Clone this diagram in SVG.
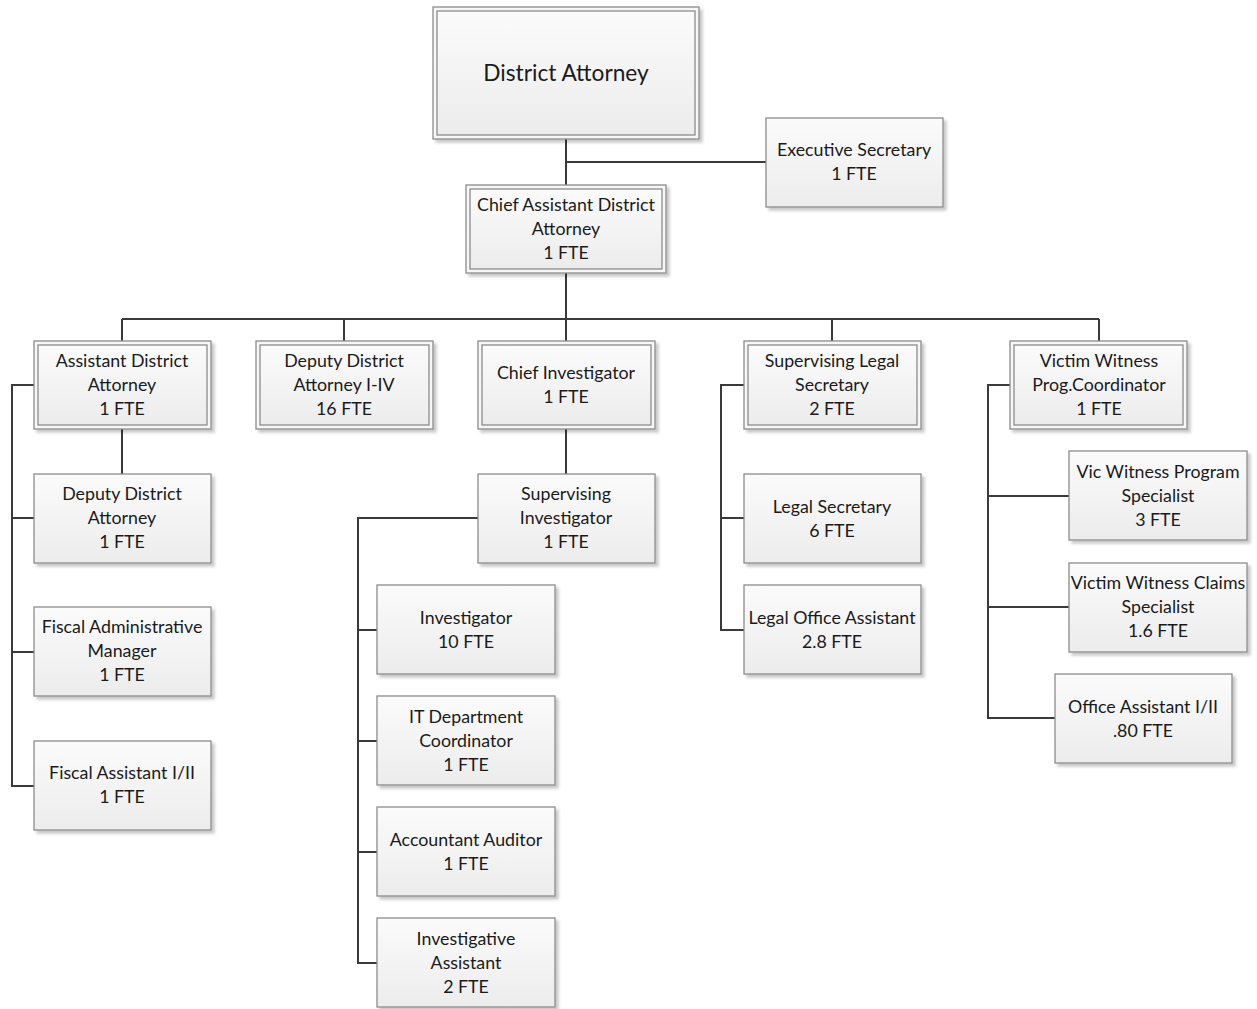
<svg xmlns="http://www.w3.org/2000/svg" width="1257" height="1009" viewBox="0 0 1257 1009">
<defs>
<linearGradient id="g" x1="0" y1="0" x2="0" y2="1">
<stop offset="0" stop-color="#fbfbfb"/>
<stop offset="1" stop-color="#ececec"/>
</linearGradient>
<filter id="sh" x="-10%" y="-10%" width="130%" height="130%">
<feDropShadow dx="3" dy="3" stdDeviation="1.5" flood-color="#000" flood-opacity="0.22"/>
</filter>
</defs>
<style>
.box{fill:url(#g);stroke:#8c8c8c;stroke-width:1.3;filter:url(#sh)}
.outer{fill:#f7f7f7;stroke:#8c8c8c;stroke-width:1.3;filter:url(#sh)}
.inner{fill:url(#g);stroke:#8c8c8c;stroke-width:1.3}
text{font-family:Lato,"Open Sans","Liberation Sans",sans-serif;font-size:17.8px;fill:#1a1a1a;text-anchor:middle;dominant-baseline:central}
.big{font-size:22.7px}
.c{fill:none;stroke:#3a3a3a;stroke-width:2}
</style>
<g id="connectors">
<path class="c" d="M566 139V185M566 162H766"/>
<path class="c" d="M566 273V319M122 319H1099M122 319V341M344 319V341M566 319V341M832 319V341M1099 319V341"/>
<path class="c" d="M122 429V474M34 385H12V786H34M12 518H34M12 652H34"/>
<path class="c" d="M566 429V474M478 518H358V963H377M358 630H377M358 741H377M358 852H377"/>
<path class="c" d="M744 385H721V630H744M721 518H744"/>
<path class="c" d="M1010 385H988V718H1055M988 496H1069M988 607H1069"/>
</g>
<g id="district-attorney">
<rect class="outer" x="433" y="7" width="266" height="132"/>
<rect class="inner" x="437" y="11" width="258" height="124"/>
<text class="big" x="566" y="72">District Attorney</text>
</g>
<g id="executive-secretary">
<rect class="box" x="766" y="118" width="177" height="89"/>
<text x="854" y="149">Executive Secretary</text>
<text x="854" y="173">1 FTE</text>
</g>
<g id="chief-assistant-da">
<rect class="outer" x="466" y="185" width="200" height="88"/>
<rect class="inner" x="470" y="189" width="192" height="80"/>
<text x="566" y="204">Chief Assistant District</text>
<text x="566" y="228">Attorney</text>
<text x="566" y="252">1 FTE</text>
</g>
<g id="assistant-da">
<rect class="outer" x="34" y="341" width="177" height="88"/>
<rect class="inner" x="38" y="345" width="169" height="80"/>
<text x="122" y="360">Assistant District</text>
<text x="122" y="384">Attorney</text>
<text x="122" y="408">1 FTE</text>
</g>
<g id="deputy-da-i-iv">
<rect class="outer" x="256" y="341" width="177" height="88"/>
<rect class="inner" x="260" y="345" width="169" height="80"/>
<text x="344" y="360">Deputy District</text>
<text x="344" y="384">Attorney I-IV</text>
<text x="344" y="408">16 FTE</text>
</g>
<g id="chief-investigator">
<rect class="outer" x="478" y="341" width="177" height="88"/>
<rect class="inner" x="482" y="345" width="169" height="80"/>
<text x="566" y="372">Chief Investigator</text>
<text x="566" y="396">1 FTE</text>
</g>
<g id="supervising-legal-secretary">
<rect class="outer" x="744" y="341" width="177" height="88"/>
<rect class="inner" x="748" y="345" width="169" height="80"/>
<text x="832" y="360">Supervising Legal</text>
<text x="832" y="384">Secretary</text>
<text x="832" y="408">2 FTE</text>
</g>
<g id="victim-witness-coordinator">
<rect class="outer" x="1010" y="341" width="177" height="88"/>
<rect class="inner" x="1014" y="345" width="169" height="80"/>
<text x="1099" y="360">Victim Witness</text>
<text x="1099" y="384">Prog.Coordinator</text>
<text x="1099" y="408">1 FTE</text>
</g>
<g id="deputy-da">
<rect class="box" x="34" y="474" width="177" height="89"/>
<text x="122" y="493">Deputy District</text>
<text x="122" y="517">Attorney</text>
<text x="122" y="541">1 FTE</text>
</g>
<g id="fiscal-admin-manager">
<rect class="box" x="34" y="607" width="177" height="89"/>
<text x="122" y="626">Fiscal Administrative</text>
<text x="122" y="650">Manager</text>
<text x="122" y="674">1 FTE</text>
</g>
<g id="fiscal-assistant">
<rect class="box" x="34" y="741" width="177" height="89"/>
<text x="122" y="772">Fiscal Assistant I/II</text>
<text x="122" y="796">1 FTE</text>
</g>
<g id="supervising-investigator">
<rect class="box" x="478" y="474" width="177" height="89"/>
<text x="566" y="493">Supervising</text>
<text x="566" y="517">Investigator</text>
<text x="566" y="541">1 FTE</text>
</g>
<g id="investigator">
<rect class="box" x="377" y="585" width="178" height="89"/>
<text x="466" y="617">Investigator</text>
<text x="466" y="641">10 FTE</text>
</g>
<g id="it-coordinator">
<rect class="box" x="377" y="696" width="178" height="89"/>
<text x="466" y="716">IT Department</text>
<text x="466" y="740">Coordinator</text>
<text x="466" y="764">1 FTE</text>
</g>
<g id="accountant-auditor">
<rect class="box" x="377" y="807" width="178" height="89"/>
<text x="466" y="839">Accountant Auditor</text>
<text x="466" y="863">1 FTE</text>
</g>
<g id="investigative-assistant">
<rect class="box" x="377" y="918" width="178" height="89"/>
<text x="466" y="938">Investigative</text>
<text x="466" y="962">Assistant</text>
<text x="466" y="986">2 FTE</text>
</g>
<g id="legal-secretary">
<rect class="box" x="744" y="474" width="177" height="89"/>
<text x="832" y="506">Legal Secretary</text>
<text x="832" y="530">6 FTE</text>
</g>
<g id="legal-office-assistant">
<rect class="box" x="744" y="585" width="177" height="89"/>
<text x="832" y="617">Legal Office Assistant</text>
<text x="832" y="641">2.8 FTE</text>
</g>
<g id="vic-witness-specialist">
<rect class="box" x="1069" y="451" width="178" height="89"/>
<text x="1158" y="471">Vic Witness Program</text>
<text x="1158" y="495">Specialist</text>
<text x="1158" y="519">3 FTE</text>
</g>
<g id="victim-witness-claims">
<rect class="box" x="1069" y="563" width="178" height="89"/>
<text x="1158" y="582">Victim Witness Claims</text>
<text x="1158" y="606">Specialist</text>
<text x="1158" y="630">1.6 FTE</text>
</g>
<g id="office-assistant">
<rect class="box" x="1055" y="674" width="177" height="89"/>
<text x="1143" y="706">Office Assistant I/II</text>
<text x="1143" y="730">.80 FTE</text>
</g>
</svg>
